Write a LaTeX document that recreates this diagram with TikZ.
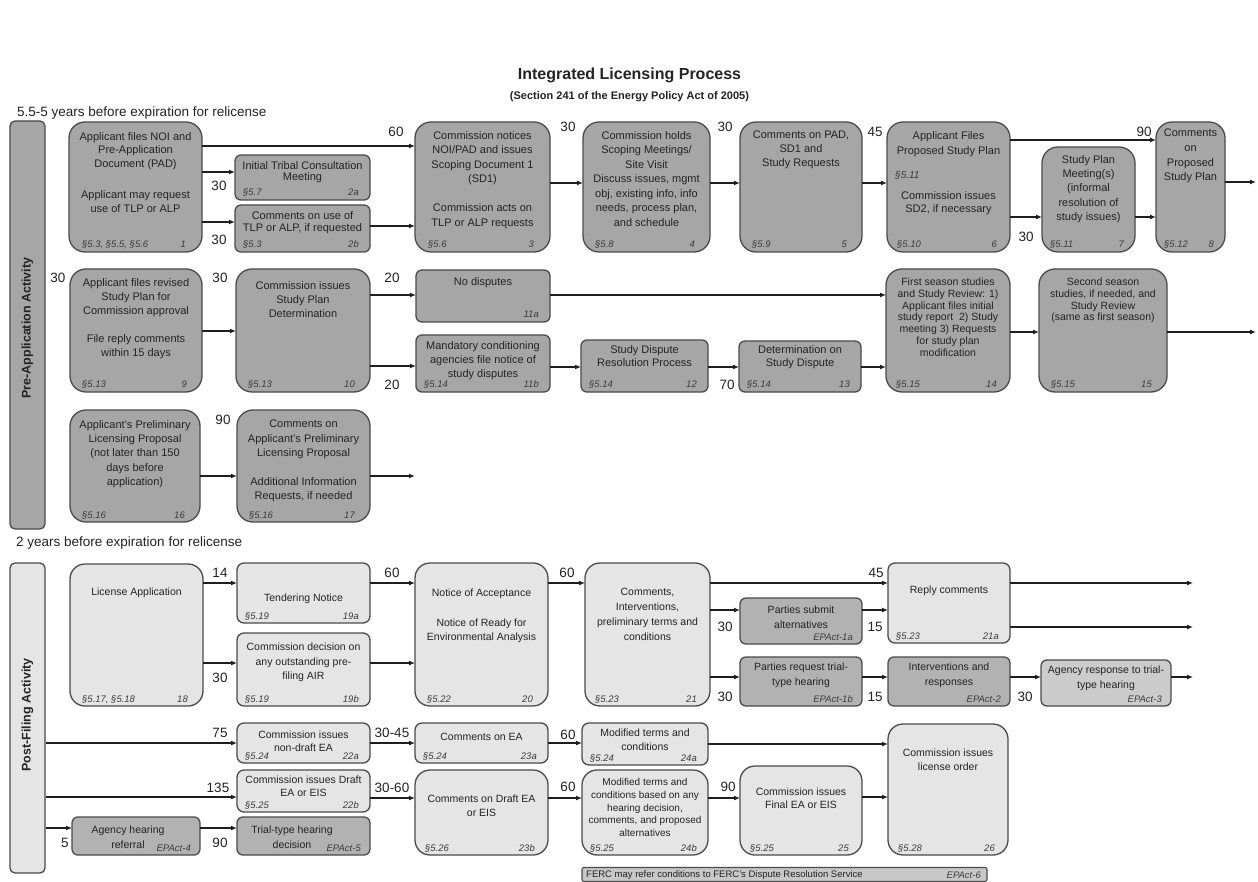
\documentclass[tikz,border=0pt]{standalone}
\usepackage{fontspec}
\setmainfont{Liberation Sans}
\usetikzlibrary{arrows.meta}
\definecolor{pre}{RGB}{166,166,166}
\definecolor{post}{RGB}{229,229,229}
\definecolor{ep}{RGB}{178,178,178}
\definecolor{epl}{RGB}{204,204,204}
\definecolor{ferc}{RGB}{200,200,200}
\definecolor{bord}{RGB}{75,75,75}
\definecolor{txtc}{RGB}{35,35,35}
\definecolor{ftc}{RGB}{60,60,60}
\definecolor{arrc}{RGB}{30,30,30}
\newcommand\bx[9]{%
  \node[#2, minimum width={#5pt-#3pt}, minimum height={#6pt-#4pt}] (#1) at ({(#3+#5)/2},{(#4+#6)/2}) {};
  \node[ft, anchor=base west] (#1l) at ({#3+#9},{#6-4}) {#7};
  \node[ft, anchor=base east] (#1r) at ({#5-#9-3},{#6-4}) {#8};
}
\begin{document}
\begin{tikzpicture}[x=1pt,y=-1pt,
  box/.style={draw=bord, line width=1.3pt, inner sep=0pt, outer sep=0pt},
  pbig/.style={box, fill=pre, rounded corners=16pt},
  psm/.style={box, fill=pre, rounded corners=6pt},
  fbig/.style={box, fill=post, rounded corners=15pt},
  fsm/.style={box, fill=post, rounded corners=7pt},
  esm/.style={box, fill=ep, rounded corners=6pt},
  e3s/.style={box, fill=epl, rounded corners=6pt},
  tx/.style={font=\fontsize{11}{14.4}\selectfont, align=center, text=txtc, inner sep=0pt, anchor=north},
  txp/.style={tx, font=\fontsize{10.5}{14.5}\selectfont},
  ft/.style={font=\fontsize{9.5}{11}\selectfont\itshape, text=ftc, inner sep=0pt},
  num/.style={font=\fontsize{13.5}{14}\selectfont, text=txtc, inner sep=0pt},
  arr/.style={draw=arrc, line width=1.2pt, -{Latex[length=6pt,width=5pt]}},
  side/.style={draw=bord, line width=1.3pt, rounded corners=5pt, inner sep=0pt, minimum width=35pt},
  sidet/.style={rotate=90, font=\bfseries\fontsize{12.5}{13}\selectfont, text=txtc, inner sep=0pt}
]
\useasboundingbox (0,0) rectangle (1258,882);
\fill[white] (0,0) rectangle (1258,882);

% titles
\node[font=\bfseries\fontsize{16}{18}\selectfont, text=txtc] (title) at (629.5,75) {Integrated Licensing Process};
\node[font=\bfseries\fontsize{11}{13}\selectfont, text=txtc] (sub) at (629.5,97) {(Section 241 of the Energy Policy Act of 2005)};
\node[font=\fontsize{13.5}{14}\selectfont, text=txtc, anchor=west, inner sep=0pt] (h1) at (17,113) {5.5-5 years before expiration for relicense};
\node[font=\fontsize{13.5}{14}\selectfont, text=txtc, anchor=west, inner sep=0pt] (h2) at (16,543) {2 years before expiration for relicense};

% sidebars
\node[side, fill=pre, minimum height=408pt] (sb1) at (27.5,325) {};
\node[sidet] (sb1t) at (27.5,328) {Pre-Application Activity};
\node[side, fill=post, minimum height=310pt] (sb2) at (27.5,718) {};
\node[sidet] (sb2t) at (27.5,715) {Post-Filing Activity};

% ---------- Row 1 ----------
\bx{b1}{pbig}{69}{122}{202}{252}{§5.3, §5.5, §5.6}{1}{13}
\bx{b2a}{psm}{235}{155}{370}{200}{§5.7}{2a}{8}
\bx{b2b}{psm}{235}{205}{370}{252}{§5.3}{2b}{8}
\bx{b3}{pbig}{415}{122}{550}{252}{§5.6}{3}{13}
\bx{b4}{pbig}{583}{122}{710}{252}{§5.8}{4}{12}
\bx{b5}{pbig}{740}{122}{862}{252}{§5.9}{5}{12}
\bx{b6}{pbig}{887}{122}{1010}{252}{§5.10}{6}{10}
\bx{b7}{pbig}{1042}{147}{1135}{252}{§5.11}{7}{8}
\bx{b8}{pbig}{1156}{122}{1225}{252}{§5.12}{8}{8}

\node[tx, font=\fontsize{11}{13.5}\selectfont] (b1t) at (135.5,132) {Applicant files NOI and\\Pre-Application\\Document (PAD)\\[18pt]Applicant may request\\use of TLP or ALP};
\node[tx, font=\fontsize{11}{11.5}\selectfont] (b2at) at (302.5,161) {Initial Tribal Consultation\\Meeting};
\node[tx, font=\fontsize{11}{12}\selectfont] (b2bt) at (302.5,211) {Comments on use of\\TLP or ALP, if requested};
\node[tx, font=\fontsize{11}{14.5}\selectfont] (b3t) at (482.5,131) {Commission notices\\NOI/PAD and issues\\Scoping Document 1\\(SD1)\\[14.5pt]Commission acts on\\TLP or ALP requests};
\node[tx, font=\fontsize{11}{14.5}\selectfont] (b4t) at (646.5,131) {Commission holds\\Scoping Meetings/\\Site Visit\\Discuss issues, mgmt\\obj, existing info, info\\needs, process plan,\\and schedule};
\node[tx, font=\fontsize{11}{14}\selectfont] (b5t) at (801,131) {Comments on PAD,\\SD1 and\\Study Requests};
\node[tx, font=\fontsize{11}{15}\selectfont] (b6t) at (948.5,131) {Applicant Files\\Proposed Study Plan};
\node[ft, anchor=west, font=\fontsize{10}{12}\selectfont\itshape] (b6s) at (895,175) {§5.11};
\node[tx, font=\fontsize{11}{13.5}\selectfont] (b6u) at (948.5,191) {Commission issues\\SD2, if necessary};
\node[tx] (b7t) at (1088.5,155) {Study Plan\\Meeting(s)\\(informal\\resolution of\\study issues)};
\node[tx, font=\fontsize{11}{14.6}\selectfont] (b8t) at (1190.5,129) {Comments\\on\\Proposed\\Study Plan};

\draw[arr] (b1.east |- 0,146) -- (b3.west |- 0,146);
\draw[arr] (b1.east |- 0,172) -- (b2a.west |- 0,172);
\draw[arr] (b1.east |- 0,222) -- (b2b.west |- 0,222);
\draw[arr] (b2b.east |- 0,226) -- (b3.west |- 0,226);
\draw[arr] (b3.east |- 0,183) -- (b4.west |- 0,183);
\draw[arr] (b4.east |- 0,183) -- (b5.west |- 0,183);
\draw[arr] (b5.east |- 0,183) -- (b6.west |- 0,183);
\draw[arr] (b6.east |- 0,140) -- (b8.west |- 0,140);
\draw[arr] (b6.east |- 0,217) -- (b7.west |- 0,217);
\draw[arr] (b7.east |- 0,217) -- (b8.west |- 0,217);
\coordinate (o1) at (1256,182);
\draw[arr] (b8.east |- o1) -- (o1);

\node[num] (n1) at (396,132) {60};
\node[num] (n2) at (219,186) {30};
\node[num] (n3) at (219,240) {30};
\node[num] (n4) at (568,127) {30};
\node[num] (n5) at (725,127) {30};
\node[num] (n6) at (875,132) {45};
\node[num] (n7) at (1144,132) {90};
\node[num] (n8) at (1026,237) {30};

% ---------- Row 2 ----------
\bx{b9}{pbig}{70}{269}{202}{392}{§5.13}{9}{12}
\bx{b10}{pbig}{236}{269}{370}{392}{§5.13}{10}{12}
\bx{b11a}{psm}{416}{270}{550}{322}{}{11a}{8}
\bx{b11b}{psm}{416}{335}{550}{392}{§5.14}{11b}{8}
\bx{b12}{psm}{581}{340}{708}{392}{§5.14}{12}{8}
\bx{b13}{psm}{739}{341}{861}{392}{§5.14}{13}{8}
\bx{b14}{pbig}{886}{269}{1010}{392}{§5.15}{14}{10}
\bx{b15}{pbig}{1039}{269}{1167}{392}{§5.15}{15}{12}

\node[tx, font=\fontsize{11}{14}\selectfont] (b9t) at (136,278) {Applicant files revised\\Study Plan for\\Commission approval\\[14pt]File reply comments\\within 15 days};
\node[tx, font=\fontsize{11}{14}\selectfont] (b10t) at (303,281) {Commission issues\\Study Plan\\Determination};
\node[tx] (b11at) at (483,277) {No disputes};
\node[tx, font=\fontsize{11}{14}\selectfont] (b11bt) at (483,341) {Mandatory conditioning\\agencies file notice of\\study disputes};
\node[tx, font=\fontsize{11}{13}\selectfont] (b12t) at (644.5,345) {Study Dispute\\Resolution Process};
\node[tx, font=\fontsize{11}{13}\selectfont] (b13t) at (800,345) {Determination on\\Study Dispute};
\node[tx, font=\fontsize{10.5}{11.7}\selectfont] (b14t) at (948,278) {First season studies\\and Study Review: 1)\\Applicant files initial\\study report\ \ 2) Study\\meeting 3) Requests\\for study plan\\modification};
\node[tx, font=\fontsize{10.5}{11.7}\selectfont] (b15t) at (1103,278) {Second season\\studies, if needed, and\\Study Review\\(same as first season)};

\draw[arr] (b9.east |- 0,331) -- (b10.west |- 0,331);
\draw[arr] (b10.east |- 0,295) -- (b11a.west |- 0,295);
\draw[arr] (b10.east |- 0,366) -- (b11b.west |- 0,366);
\draw[arr] (b11a.east |- 0,295) -- (b14.west |- 0,295);
\draw[arr] (b11b.east |- 0,367) -- (b12.west |- 0,367);
\draw[arr] (b12.east |- 0,367) -- (b13.west |- 0,367);
\draw[arr] (b13.east |- 0,367) -- (b14.west |- 0,367);
\draw[arr] (b14.east |- 0,332) -- (b15.west |- 0,332);
\coordinate (o2) at (1256,332);
\draw[arr] (b15.east |- o2) -- (o2);

\node[num] (n9) at (58,278) {30};
\node[num] (n10) at (220,278) {30};
\node[num] (n11) at (392,278) {20};
\node[num] (n12) at (392,385) {20};
\node[num] (n13) at (727,385) {70};

% ---------- Row 3 ----------
\bx{b16}{pbig}{70}{410}{200}{522}{§5.16}{16}{12}
\bx{b17}{pbig}{237}{410}{370}{522}{§5.16}{17}{12}
\node[tx, font=\fontsize{11}{14.3}\selectfont] (b16t) at (135,420) {Applicant's Preliminary\\Licensing Proposal\\(not later than 150\\days before\\application)};
\node[tx, font=\fontsize{11}{14.3}\selectfont] (b17t) at (303.5,420) {Comments on\\Applicant's Preliminary\\Licensing Proposal\\[14.3pt]Additional Information\\Requests, if needed};
\draw[arr] (b16.east |- 0,476) -- (b17.west |- 0,476);
\coordinate (o3) at (415,476);
\draw[arr] (b17.east |- o3) -- (o3);
\node[num] (n14) at (223,420) {90};

% ---------- Post-filing rows ----------
\bx{b18}{fbig}{70}{564}{203}{706}{§5.17, §5.18}{18}{12}
\bx{b19a}{fsm}{237}{563}{370}{623}{§5.19}{19a}{8}
\bx{b19b}{fsm}{237}{633}{370}{706}{§5.19}{19b}{8}
\bx{b20}{fbig}{415}{563}{548}{706}{§5.22}{20}{12}
\bx{b21}{fbig}{585}{563}{710}{706}{§5.23}{21}{10}
\bx{e1a}{esm}{740}{598}{862}{644}{}{EPAct-1a}{6}
\bx{b21a}{fsm}{888}{563}{1010}{643}{§5.23}{21a}{8}
\bx{e1b}{esm}{740}{657}{862}{706}{}{EPAct-1b}{6}
\bx{e2}{esm}{888}{657}{1010}{706}{}{EPAct-2}{6}
\bx{e3}{e3s}{1041}{660}{1171}{706}{}{EPAct-3}{6}

\node[txp] (b18t) at (136.5,588) {License Application};
\node[txp] (b19at) at (303.5,594) {Tendering Notice};
\node[txp] (b19bt) at (303.5,643) {Commission decision on\\any outstanding pre-\\filing AIR};
\node[txp] (b20t) at (481.5,589) {Notice of Acceptance\\[15pt]Notice of Ready for\\Environmental Analysis};
\node[txp, font=\fontsize{10.5}{15}\selectfont] (b21t) at (647.5,588) {Comments,\\Interventions,\\preliminary terms and\\conditions};
\node[txp, font=\fontsize{10.5}{15}\selectfont] (e1at) at (801,606) {Parties submit\\alternatives};
\node[txp] (b21at) at (949,586) {Reply comments};
\node[txp, font=\fontsize{10.5}{15}\selectfont] (e1bt) at (801,663) {Parties request trial-\\type hearing};
\node[txp, font=\fontsize{10.5}{15}\selectfont] (e2t) at (949,663) {Interventions and\\responses};
\node[txp, font=\fontsize{10.5}{15}\selectfont] (e3t) at (1106,666) {Agency response to trial-\\type hearing};

\draw[arr] (b18.east |- 0,583) -- (b19a.west |- 0,583);
\draw[arr] (b18.east |- 0,663) -- (b19b.west |- 0,663);
\draw[arr] (b19a.east |- 0,583) -- (b20.west |- 0,583);
\draw[arr] (b19b.east |- 0,663) -- (b20.west |- 0,663);
\draw[arr] (b20.east |- 0,583) -- (b21.west |- 0,583);
\draw[arr] (b21.east |- 0,583) -- (b21a.west |- 0,583);
\draw[arr] (b21.east |- 0,610) -- (e1a.west |- 0,610);
\draw[arr] (e1a.east |- 0,610) -- (b21a.west |- 0,610);
\coordinate (o4) at (1193,583);
\coordinate (o5) at (1193,627);
\draw[arr] (b21a.east |- o4) -- (o4);
\draw[arr] (b21a.east |- o5) -- (o5);
\draw[arr] (b21.east |- 0,677) -- (e1b.west |- 0,677);
\draw[arr] (e1b.east |- 0,677) -- (e2.west |- 0,677);
\draw[arr] (e2.east |- 0,677) -- (e3.west |- 0,677);
\coordinate (o6) at (1193,677);
\draw[arr] (e3.east |- o6) -- (o6);

\node[num] (n15) at (220,573) {14};
\node[num] (n16) at (220,678) {30};
\node[num] (n17) at (392,573) {60};
\node[num] (n18) at (567,573) {60};
\node[num] (n19) at (876,573) {45};
\node[num] (n20) at (725,627) {30};
\node[num] (n21) at (875,627) {15};
\node[num] (n22) at (725,697) {30};
\node[num] (n23) at (875,697) {15};
\node[num] (n24) at (1025,697) {30};

\bx{b22a}{fsm}{237}{723}{370}{763}{§5.24}{22a}{8}
\bx{b22b}{fsm}{237}{770}{370}{812}{§5.25}{22b}{8}
\bx{b23a}{fsm}{415}{723}{548}{763}{§5.24}{23a}{8}
\bx{b23b}{fbig}{415}{770}{548}{855}{§5.26}{23b}{10}
\bx{b24a}{fsm}{582}{723}{708}{765}{§5.24}{24a}{8}
\bx{b24b}{fbig}{582}{770}{708}{855}{§5.25}{24b}{8}
\bx{b25}{fbig}{740}{766}{862}{855}{§5.25}{25}{10}
\bx{b26}{fbig}{888}{724}{1008}{855}{§5.28}{26}{10}
\bx{e4}{esm}{72}{817}{200}{855}{}{EPAct-4}{6}
\bx{e5}{esm}{237}{817}{370}{855}{}{EPAct-5}{6}

\node[txp, font=\fontsize{10.5}{13}\selectfont] (b22at) at (303.5,731) {Commission issues\\non-draft EA};
\node[txp, font=\fontsize{10.5}{13}\selectfont] (b22bt) at (303.5,776) {Commission issues Draft\\EA or EIS};
\node[txp] (b23at) at (481.5,733) {Comments on EA};
\node[txp, font=\fontsize{10.5}{14}\selectfont] (b23bt) at (481.5,795) {Comments on Draft EA\\or EIS};
\node[txp, font=\fontsize{10.5}{14}\selectfont] (b24at) at (645,729) {Modified terms and\\conditions};
\node[txp, font=\fontsize{10}{12.7}\selectfont] (b24bt) at (645,778.3) {Modified terms and\\conditions based on any\\hearing decision,\\comments, and proposed\\alternatives};
\node[txp, font=\fontsize{10.5}{13}\selectfont] (b25t) at (801,788) {Commission issues\\Final EA or EIS};
\node[txp, font=\fontsize{10.5}{14}\selectfont] (b26t) at (948,749) {Commission issues\\license order};
\node[txp, font=\fontsize{10.5}{15}\selectfont] (e4t) at (128,826) {Agency hearing\\referral};
\node[txp, font=\fontsize{10.5}{15}\selectfont] (e5t) at (292,826) {Trial-type hearing\\decision};

\draw[arr] (sb2.east |- 0,743) -- (b22a.west |- 0,743);
\draw[arr] (b22a.east |- 0,743) -- (b23a.west |- 0,743);
\draw[arr] (b23a.east |- 0,743) -- (b24a.west |- 0,743);
\draw[arr] (b24a.east |- 0,744) -- (b26.west |- 0,744);
\draw[arr] (sb2.east |- 0,797) -- (b22b.west |- 0,797);
\draw[arr] (b22b.east |- 0,798) -- (b23b.west |- 0,798);
\draw[arr] (b23b.east |- 0,798) -- (b24b.west |- 0,798);
\draw[arr] (b24b.east |- 0,798) -- (b25.west |- 0,798);
\draw[arr] (b25.east |- 0,797) -- (b26.west |- 0,797);
\draw[arr] (sb2.east |- 0,828) -- (e4.west |- 0,828);
\draw[arr] (e4.east |- 0,828) -- (e5.west |- 0,828);

\node[num] (n25) at (220,733) {75};
\node[num] (n26) at (392,733) {30-45};
\node[num] (n27) at (568,735) {60};
\node[num] (n28) at (218,788) {135};
\node[num] (n29) at (392,788) {30-60};
\node[num] (n30) at (568,787) {60};
\node[num] (n31) at (728,787) {90};
\node[num] (n32) at (65,843) {5};
\node[num] (n33) at (220,843) {90};

% FERC box
\node[box, fill=ferc, rounded corners=2pt, line width=1.1pt, minimum width=405pt, minimum height=14pt] (ferc) at (784.5,874.5) {};
\node[font=\fontsize{9.5}{10}\selectfont, text=txtc, anchor=west, inner sep=0pt] (ferct) at (586,875) {FERC may refer conditions to FERC's Dispute Resolution Service};
\node[ft, anchor=east] (fercr) at (981,875) {EPAct-6};
\end{tikzpicture}
\end{document}
